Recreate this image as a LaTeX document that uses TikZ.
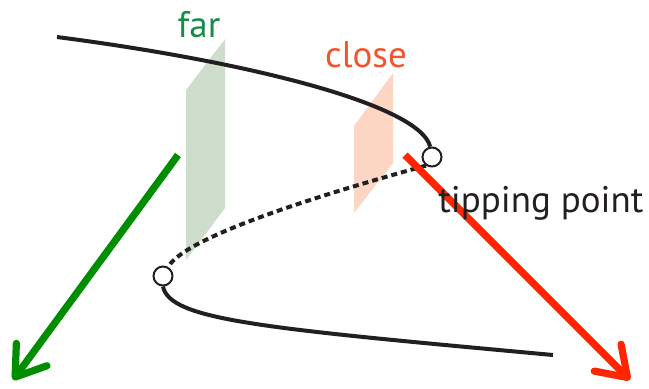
\documentclass[tikz,border=0pt]{standalone}
\usepackage{fontspec}
\setmainfont{PT Sans}
\usepackage{tikz}
\usetikzlibrary{arrows.meta, positioning, calc}
\usepackage{xcolor}
\definecolor{cFarPanel}{RGB}{207,222,204}
\definecolor{cClosePanel}{RGB}{252,214,194}
\definecolor{cFarText}{RGB}{25,138,72}
\definecolor{cCloseText}{RGB}{240,85,45}
\definecolor{cFarArrow}{RGB}{0,142,0}
\definecolor{cCloseArrow}{RGB}{255,38,0}
\definecolor{cCurve}{RGB}{35,31,32}
\tikzset{
  labeltext/.style={font=\fontsize{18.5}{22}\selectfont, inner sep=0pt, anchor=base},
  foldpoint/.style={circle, draw=cCurve, line width=1pt, fill=white,
                    minimum size=9.5pt, inner sep=0pt},
  stablebranch/.style={draw=cCurve, line width=2pt},
  unstablebranch/.style={draw=cCurve, line width=2pt, dash pattern=on 3pt off 2pt},
  bigarrow/.style={line width=3.6pt, line cap=butt,
                   -{Straight Barb[length=14pt, width=19pt, line cap=round, round]}}
}

\begin{document}
\begin{tikzpicture}[x=0.5pt, y=-0.5pt]
  \useasboundingbox (0,0) rectangle (649,388);

  % Panels
  \fill[cFarPanel] (186,90) -- (225,39) -- (225,208) -- (186,260) -- cycle;
  \fill[cClosePanel] (354,126) -- (393,73) -- (393,163) -- (354,213) -- cycle;

  % Fold points
  \node[foldpoint] (tip) at (432,157) {};
  \node[foldpoint] (lower) at (163,276) {};

  % Branches
  \coordinate (upstart) at (57,37);
  \coordinate (lowend) at (553,355);
  \draw[stablebranch] (upstart) .. controls (250,62) and (420,105) .. (tip.100);
  \draw[unstablebranch] (tip.235) .. controls (330,192) and (185,236) .. (lower.60);
  \draw[stablebranch] (lower.south) .. controls (170,320) and (260,328) .. (lowend);

  % Arrows
  \coordinate (farstart) at (178,155);
  \coordinate (farend) at (13,380);
  \coordinate (closestart) at (405,155);
  \coordinate (closeend) at (630,380);
  \draw[bigarrow, cFarArrow] (farstart) -- (farend);
  \draw[bigarrow, cCloseArrow] (closestart) -- (closeend);

  % Labels
  \node[labeltext, text=cFarText] (far) at (199,37) {far};
  \node[labeltext, text=cCloseText] (close) at (366,67) {close};
  \node[labeltext, text=cCurve, anchor=base west] (tiplabel) at (438,212) {tipping point};
\end{tikzpicture}
\end{document}
